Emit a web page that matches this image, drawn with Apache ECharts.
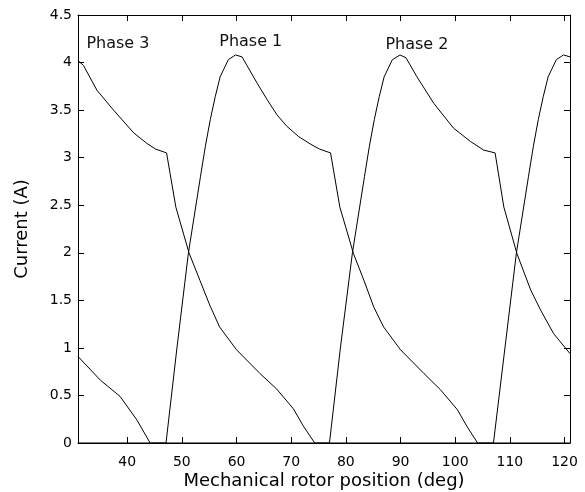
<html>
<head>
<script src="https://cdn.jsdelivr.net/npm/echarts@6/dist/echarts.min.js"></script>
</head>
<body style="margin:0;background:#fff;">
	<div id="chart" style="width:585px;height:492px;"></div>
	<script type="text/javascript">
		// phase currents, [deg, A]
		var phase1X = [31, 47.1, 49.1, 51.2, 53.4, 54.3, 55.2, 56.1, 57.0, 58.5, 59.8, 61.0, 61.9, 63.8, 65.6, 67.4, 69.2, 71.4, 73.6, 75.2, 77.2, 78.9, 81.4, 83.3, 85.1, 86.9, 90.0, 94.3, 97.3, 100.4, 102.2, 104.1, 121];
		var phase1Y = [0, 0, 1.0, 2.0, 2.8, 3.12, 3.40, 3.64, 3.85, 4.03, 4.08, 4.06, 3.97, 3.78, 3.61, 3.45, 3.33, 3.22, 3.14, 3.09, 3.05, 2.48, 1.99, 1.71, 1.43, 1.22, 0.98, 0.73, 0.56, 0.35, 0.17, 0, 0];

		var phase2X = [31, 35.1, 38.7, 41.8, 44.2, 77.0, 79.0, 81.2, 83.4, 84.3, 85.2, 86.1, 87.0, 88.5, 89.9, 91.0, 93.0, 96.1, 99.7, 102.8, 105.2, 107.3, 108.9, 111.3, 113.8, 115.6, 118.0, 121];
		var phase2Y = [0.91, 0.66, 0.49, 0.24, 0, 0, 1.0, 2.0, 2.8, 3.12, 3.40, 3.64, 3.85, 4.03, 4.08, 4.05, 3.85, 3.57, 3.31, 3.17, 3.08, 3.05, 2.48, 1.99, 1.61, 1.40, 1.15, 0.94];

		var phase3X = [31, 32.0, 34.45, 37.5, 41.2, 43.6, 45.2, 47.2, 48.9, 51.3, 53.3, 55.1, 56.9, 60.0, 64.3, 67.3, 70.4, 72.2, 74.3, 107.0, 109.1, 111.2, 113.4, 114.3, 115.2, 116.1, 117.0, 118.5, 119.8, 121];
		var phase3Y = [4.02, 3.97, 3.71, 3.50, 3.26, 3.15, 3.09, 3.05, 2.48, 2.00, 1.71, 1.45, 1.22, 0.98, 0.73, 0.57, 0.36, 0.18, 0, 0, 1.0, 2.0, 2.8, 3.12, 3.40, 3.64, 3.85, 4.03, 4.08, 4.06];

		// x axis ticks (axis runs 31..121)
		var xTicks = [40, 50, 60, 70, 80, 90, 100, 110, 120];

		// text labels on the plot
		var labelText = ['Phase 3', 'Phase 1', 'Phase 2'];
		var labelX = [38.3, 62.6, 93.0];
		var labelY = [4.195, 4.22, 4.19];

		function pairs(xs, ys) {
			var out = [];
			for (var i = 0; i < xs.length; i++) {
				out.push([xs[i], ys[i]]);
			}
			return out;
		}

		var font = 'DejaVu Sans';

		var myChart = echarts.init(document.getElementById('chart'));
		var option = {
			animation : false,
			textStyle : { fontFamily : font },
			grid : { left : 78, top : 15, right : 15, bottom : 49, outerBoundsMode : 'none' },
			xAxis : [
				{
					type : 'value', min : 31, max : 121,
					name : 'Mechanical rotor position (deg)', nameLocation : 'middle', nameGap : 20, nameMoveOverlap : false,
					nameTextStyle : { fontSize : 18, color : '#000' },
					axisLine : { onZero : false, lineStyle : { color : '#000' } },
					axisTick : { show : true, inside : true, length : 6, customValues : xTicks },
					axisLabel : { customValues : xTicks, fontSize : 14, color : '#000', margin : 5 },
					splitLine : { show : false }
				},
				{
					type : 'value', position : 'top', min : 31, max : 121,
					axisLine : { onZero : false, lineStyle : { color : '#000' } },
					axisTick : { show : true, inside : true, length : 6, customValues : xTicks },
					axisLabel : { show : false },
					splitLine : { show : false }
				}
			],
			yAxis : [
				{
					type : 'value', min : 0, max : 4.5, interval : 0.5,
					name : 'Current (A)', nameLocation : 'middle', nameGap : 38, nameMoveOverlap : false,
					nameTextStyle : { fontSize : 18, color : '#000' },
					axisLine : { show : true, lineStyle : { color : '#000' } },
					axisTick : { show : true, inside : true, length : 6 },
					axisLabel : { fontSize : 14, color : '#000', margin : 6 },
					splitLine : { show : false }
				},
				{
					type : 'value', position : 'right', min : 0, max : 4.5, interval : 0.5,
					axisLine : { show : true, lineStyle : { color : '#000' } },
					axisTick : { show : true, inside : true, length : 6 },
					axisLabel : { show : false },
					splitLine : { show : false }
				}
			],
			series : [
				{ name : 'Phase 1', type : 'line', data : pairs(phase1X, phase1Y), symbol : 'none', lineStyle : { color : '#000', width : 1 } },
				{ name : 'Phase 2', type : 'line', data : pairs(phase2X, phase2Y), symbol : 'none', lineStyle : { color : '#000', width : 1 } },
				{ name : 'Phase 3', type : 'line', data : pairs(phase3X, phase3Y), symbol : 'none', lineStyle : { color : '#000', width : 1 } },
				{
					type : 'line',
					data : [],
					markPoint : {
						symbol : 'circle',
						symbolSize : 1,
						itemStyle : { color : 'rgba(0,0,0,0)' },
						label : { show : true, position : 'inside', formatter : '{b}', fontSize : 16, color : '#111' },
						data : labelText.map(function (t, i) {
							return { name : t, coord : [labelX[i], labelY[i]] };
						})
					}
				}
			]
		};
		myChart.setOption(option);
	</script>
</body>
</html>
